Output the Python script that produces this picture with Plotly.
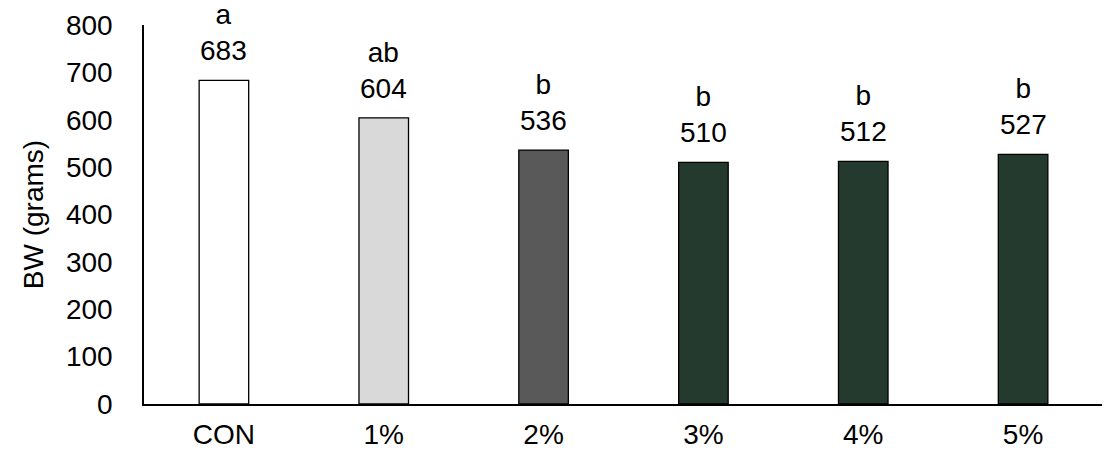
import plotly.graph_objects as go

categories = ["CON", "1%", "2%", "3%", "4%", "5%"]
values = [683, 604, 536, 510, 512, 527]
letters = ["a", "ab", "b", "b", "b", "b"]
colors = ["#ffffff", "#d9d9d9", "#595959", "#253a2e", "#253a2e", "#253a2e"]
y_ticks = [0, 100, 200, 300, 400, 500, 600, 700, 800]

FONT = "Liberation Sans, Arial, sans-serif"
FS = 28

fig = go.Figure()
fig.add_trace(go.Bar(
    x=categories, y=values,
    marker=dict(color=colors, line=dict(color="#000000", width=1.3)),
    width=0.31,
    hoverinfo="skip",
))

for c, v, l in zip(categories, values, letters):
    fig.add_annotation(
        x=c, y=v, text=f"{l}<br>{v}", showarrow=False,
        yanchor="bottom", yshift=12,
        font=dict(family=FONT, size=FS, color="#000000"),
    )

# page body has an 8px default margin, so the figure is sized to fit the window
fig.update_layout(
    width=1102, height=442,
    margin=dict(l=136, r=7, t=17, b=46),
    paper_bgcolor="#ffffff", plot_bgcolor="#ffffff",
    showlegend=False,
    font=dict(family=FONT, size=FS, color="#000000"),
)
fig.update_xaxes(
    showline=True, linecolor="#000000", linewidth=1.5,
    showgrid=False, ticks="", ticklabelstandoff=5, automargin=False,
    tickfont=dict(family=FONT, size=FS, color="#000000"),
)
fig.update_yaxes(
    range=[0, 800], tickvals=y_ticks,
    showline=True, linecolor="#000000", linewidth=1.5,
    showgrid=False, zeroline=False, ticks="", ticklabelstandoff=24, automargin=False,
    tickfont=dict(family=FONT, size=FS, color="#000000"),
    title=dict(text="BW (grams)", font=dict(family=FONT, size=FS, color="#000000"), standoff=14),
)

fig.write_html("out.html")
